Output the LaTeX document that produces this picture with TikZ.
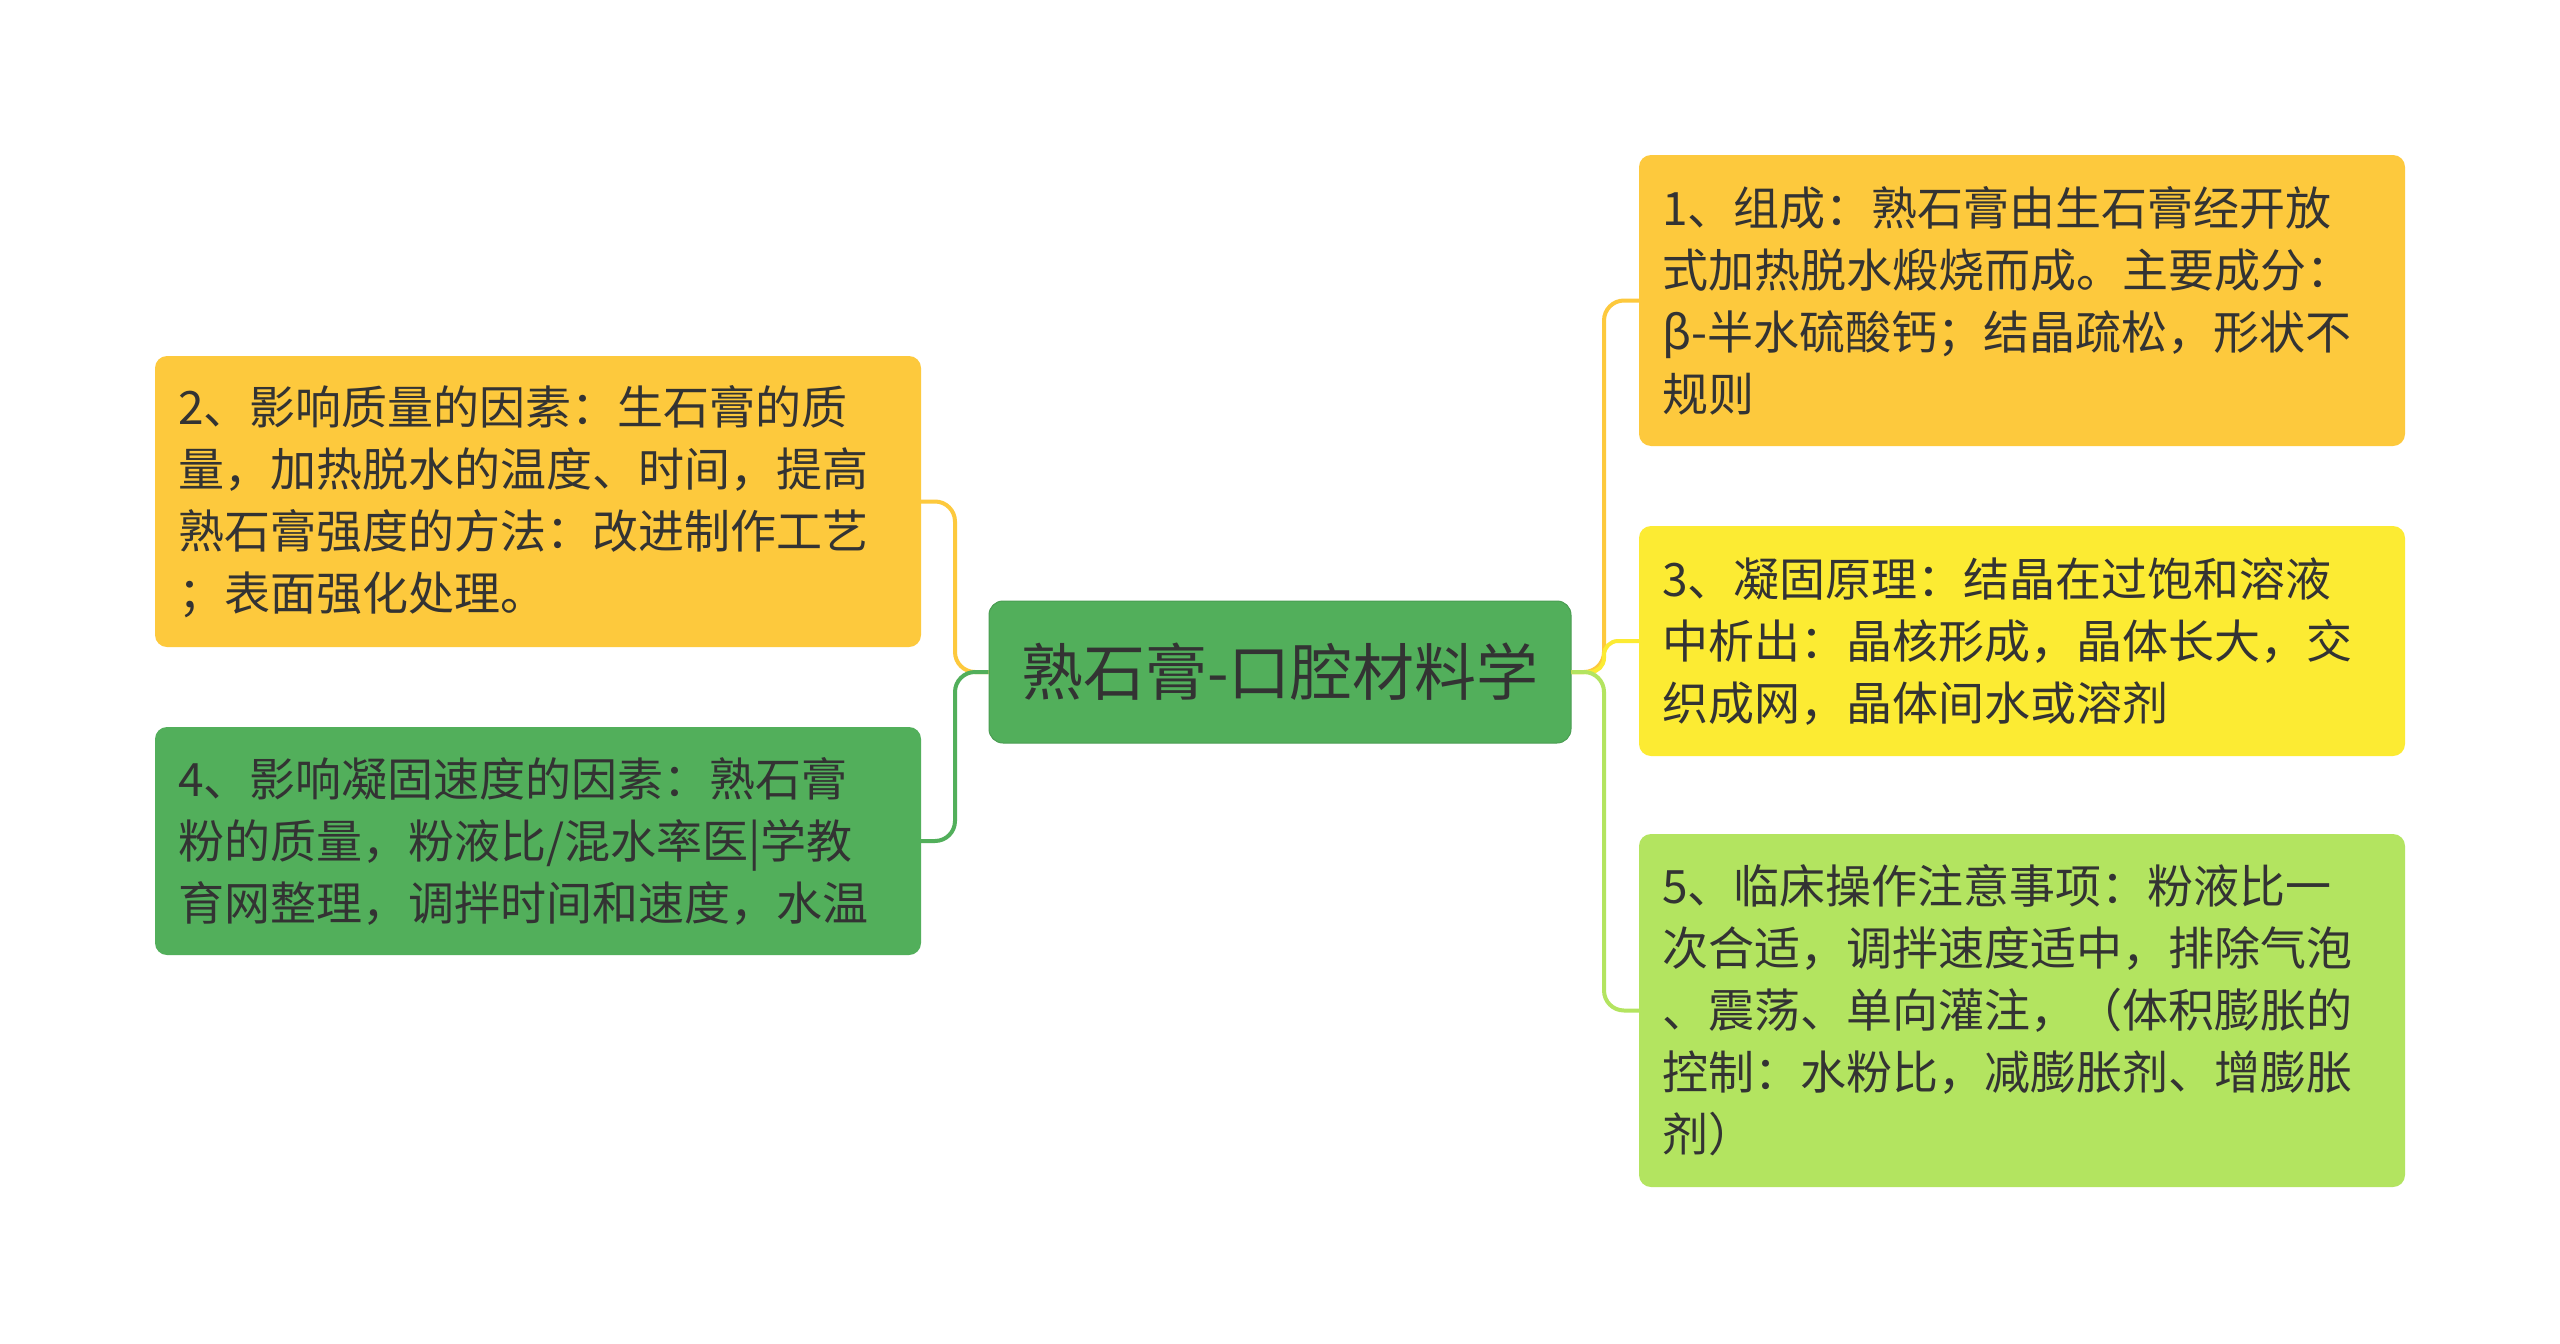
\documentclass[tikz,border=0pt]{standalone}
\usepackage{fontspec}
\setmainfont{Noto Sans CJK SC}
\definecolor{cOrange}{HTML}{FDC93D}
\definecolor{cYellow}{HTML}{FCEB33}
\definecolor{cGreen}{HTML}{52AF5B}
\definecolor{cLime}{HTML}{B3E460}
\definecolor{cText}{HTML}{333333}
\tikzset{
  topic/.style={rounded corners=12pt, inner sep=0pt, text width=720pt, minimum width=766pt, align=left, text=cText, font=\fontsize{46}{62}\selectfont},
  rootbox/.style={rounded corners=14pt, inner sep=0pt, minimum width=582pt, minimum height=142pt, fill=cGreen, draw=cGreen!90!black, line width=1pt, text=cText, font=\fontsize{62}{70}\selectfont},
  conn/.style={line width=4pt, rounded corners=20pt},
}
\begin{document}
\begin{tikzpicture}[x=1pt,y=1pt]
\useasboundingbox[fill=white] (0,0) rectangle (2560,-1344);
% root
\node[rootbox] (root) at (1280,-672) {熟石膏-口腔材料学};
% left topics
\node[topic, fill=cOrange, minimum height=291pt] (t2) at (538,-501.5) {2、影响质量的因素：生石膏的质\\量，加热脱水的温度、时间，提高\\熟石膏强度的方法：改进制作工艺\\；表面强化处理。};
\node[topic, fill=cGreen, minimum height=228pt] (t4) at (538,-841) {4、影响凝固速度的因素：熟石膏\\粉的质量，粉液比/混水率医|学教\\育网整理，调拌时间和速度，水温};
% right topics
\node[topic, fill=cOrange, minimum height=291pt] (t1) at (2022,-300.5) {1、组成：熟石膏由生石膏经开放\\式加热脱水煅烧而成。主要成分：\\β-半水硫酸钙；结晶疏松，形状不\\规则};
\node[topic, fill=cYellow, minimum height=230pt] (t3) at (2022,-641) {3、凝固原理：结晶在过饱和溶液\\中析出：晶核形成，晶体长大，交\\织成网，晶体间水或溶剂};
\node[topic, fill=cLime, minimum height=353pt] (t5) at (2022,-1010.5) {5、临床操作注意事项：粉液比一\\次合适，调拌速度适中，排除气泡\\、震荡、单向灌注，（体积膨胀的\\控制：水粉比，减膨胀剂、增膨胀\\剂）};
% junction coordinates
\coordinate (jl) at (955,-672);
\coordinate (jr) at (1604,-672);
% left connectors
\draw[conn, cOrange] (root.west) -- (jl) |- (t2.east);
\draw[conn, cGreen] (root.west) -- (jl) |- (t4.east);
% right connectors
\draw[conn, cOrange] (root.east) -- (jr) |- (t1.west);
\draw[conn, cYellow, rounded corners=14pt] (root.east) -- (jr) |- (t3.west);
\draw[conn, cLime] (root.east) -- (jr) |- (t5.west);
\end{tikzpicture}
\end{document}
